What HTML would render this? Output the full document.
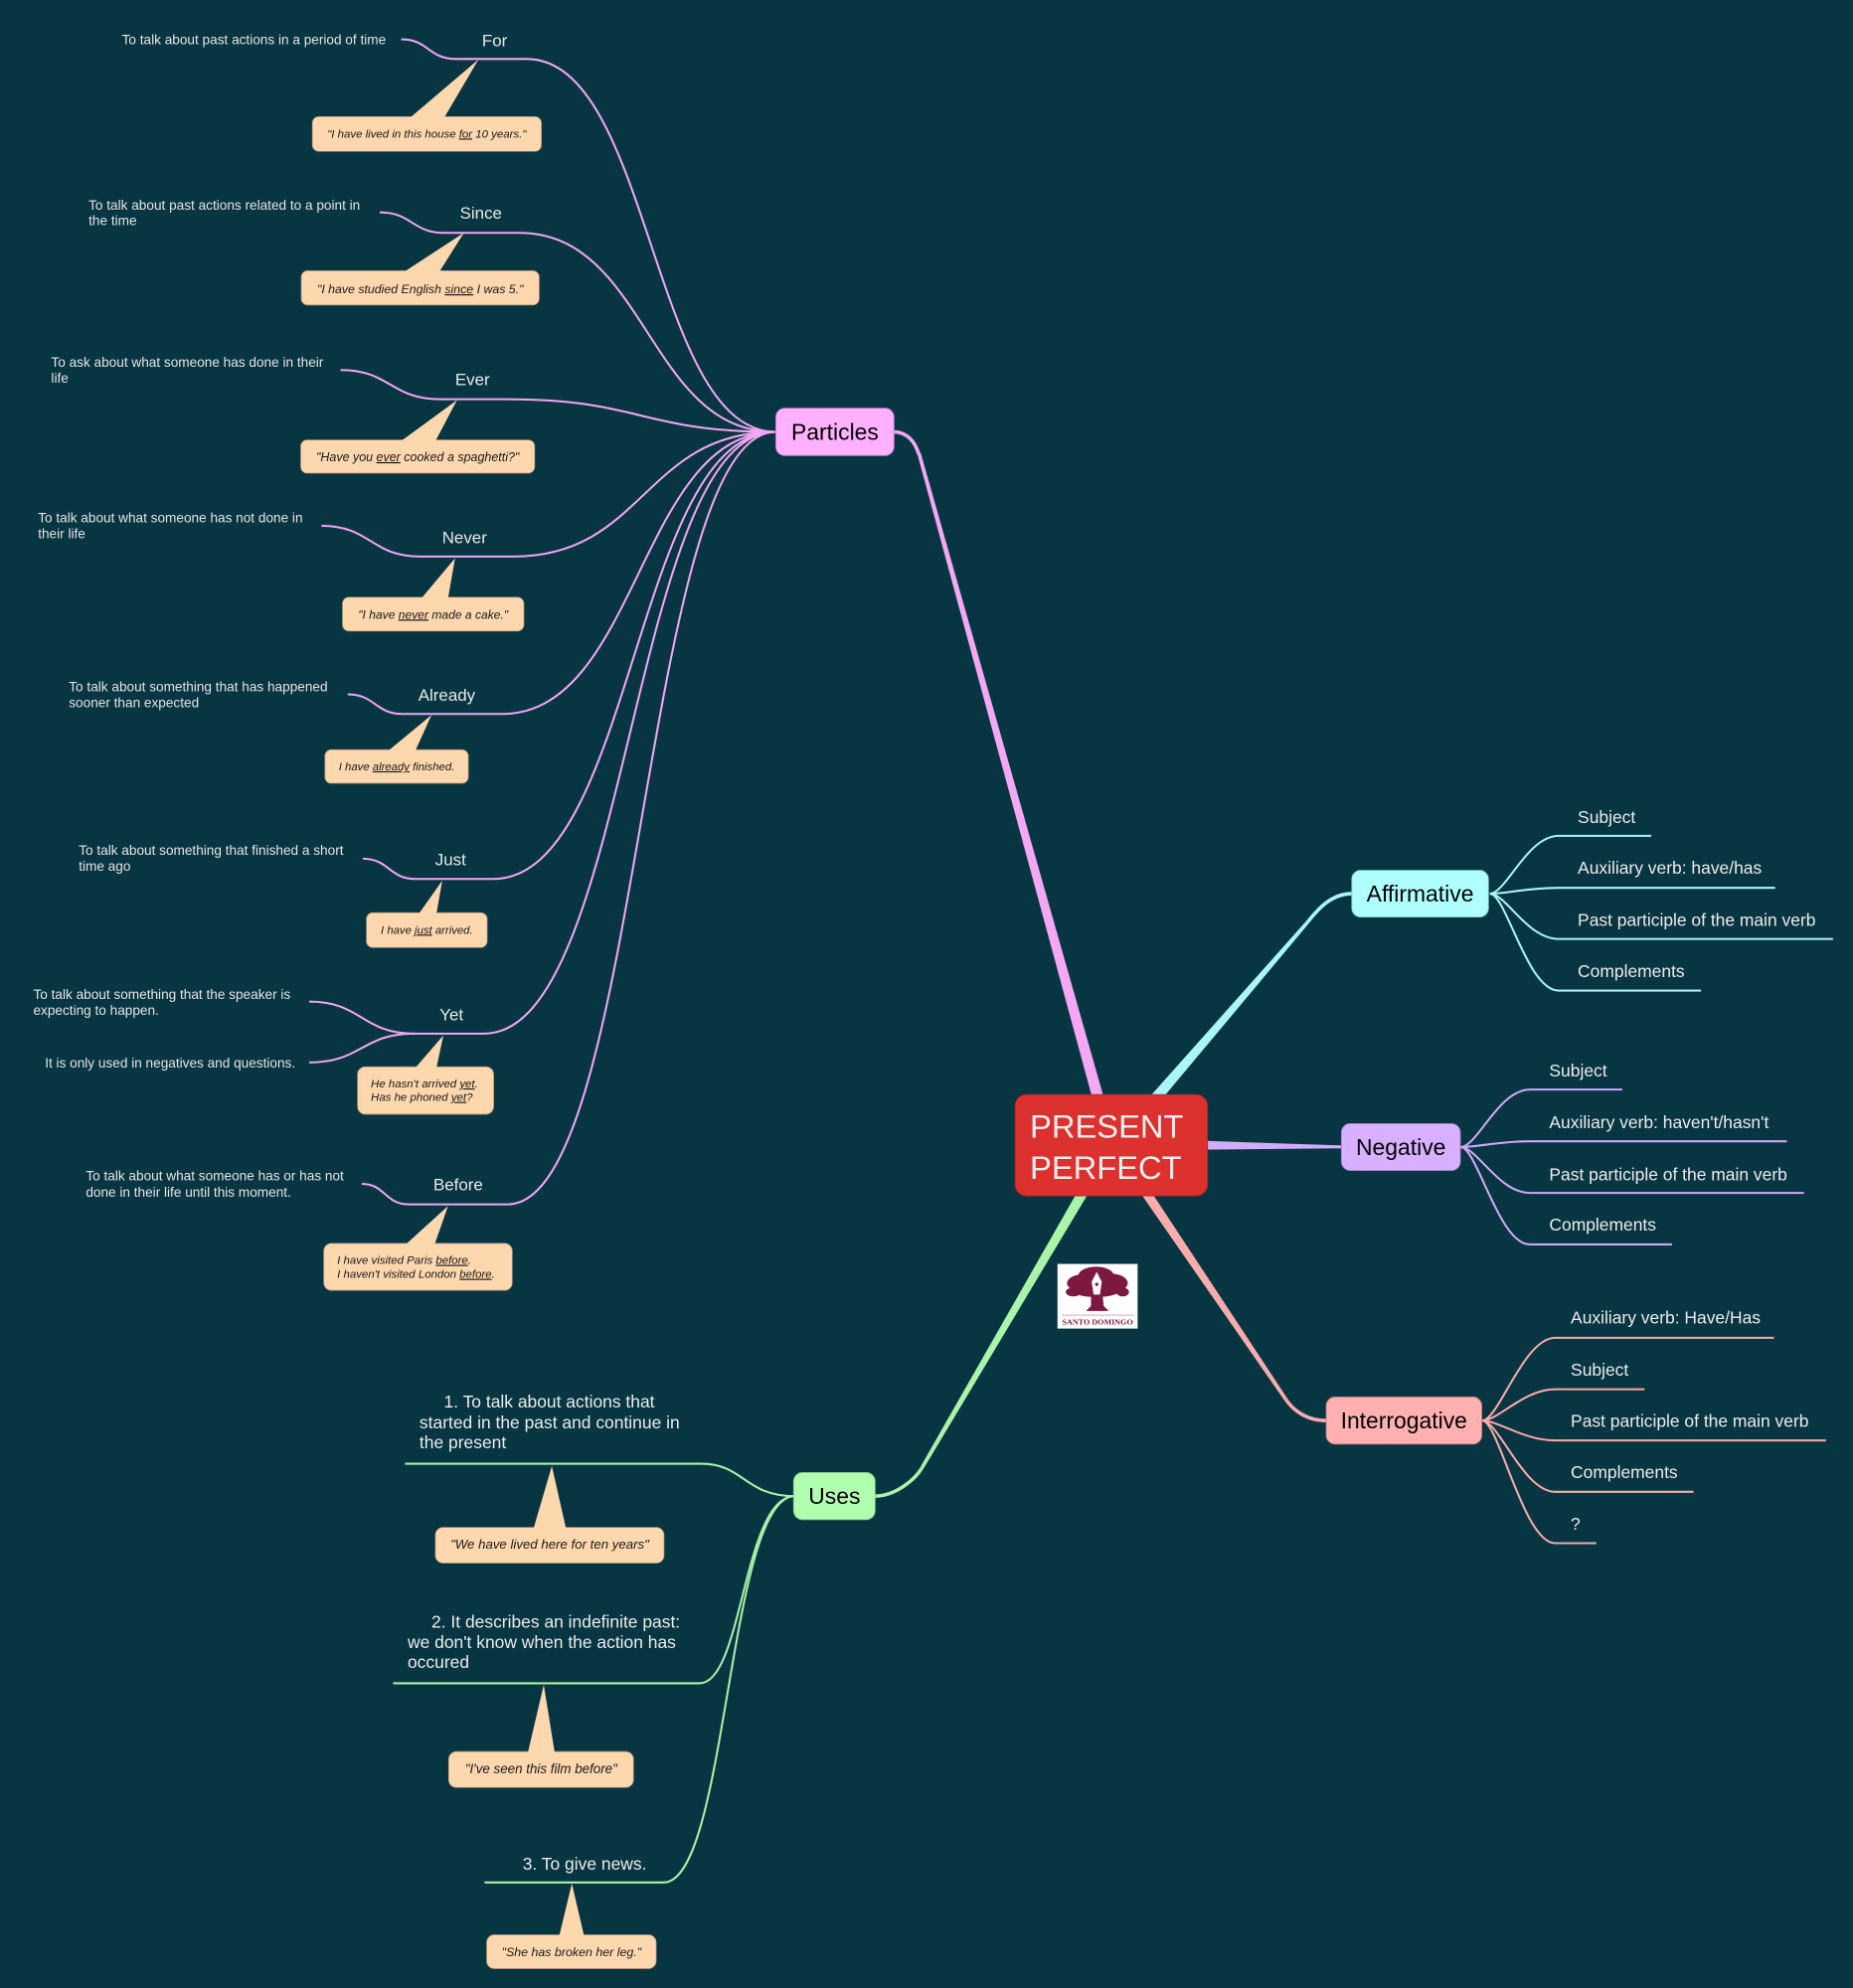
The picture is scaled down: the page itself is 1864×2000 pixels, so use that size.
<!DOCTYPE html>
<html>
<head>
<meta charset="utf-8">
<style>
html,body{margin:0;padding:0;background:#083542;}
svg{display:block;}
text{font-family:"Liberation Sans",Arial,Helvetica,sans-serif;}
.d{fill:#e4e4e4;font-size:10.7px;}
.l{fill:#e8e8e8;font-size:13.3px;}
.r{fill:#ececec;font-size:13.7px;}
.c{fill:#1a1a1a;font-style:italic;}
.n{fill:#000;font-size:18px;text-anchor:middle;}
.u{text-decoration:underline;}
.pk{stroke:#f2a6f2;stroke-width:1.6;fill:none;}
.cy{stroke:#a8f4f4;stroke-width:1.6;fill:none;}
.lv{stroke:#cfa8f6;stroke-width:1.6;fill:none;}
.sa{stroke:#f6aaaa;stroke-width:1.6;fill:none;}
.gr{stroke:#a8f2a8;stroke-width:1.6;fill:none;}
.bx{fill:#fdd7ae;stroke:#b9987a;stroke-width:0.6;}
.pt{fill:#fdd7ae;}
</style>
</head>
<body>
<svg width="1864" height="2000" viewBox="0 0 1464 1571" preserveAspectRatio="none" xmlns="http://www.w3.org/2000/svg">
<rect x="0" y="0" width="1464" height="1571" fill="#083542"/>

<!-- ===== thick main connectors ===== -->
<!-- Particles -->
<polygon points="875.34,878.8 727.35,357.63 724.65,358.37 866.66,881.2" fill="#f4a8f4"/>
<path d="M725.9,359 C722.9,348.4 716,341.3 706,341.3" stroke="#f4a8f4" stroke-width="2.8" fill="none"/>
<!-- Affirmative -->
<polygon points="905.91,882.94 1033.06,730.91 1030.94,729.09 899.09,877.06" fill="#aaf6f6"/>
<path d="M1032,730 C1039,721.5 1050,706.2 1068,706.2" stroke="#aaf6f6" stroke-width="2.8" fill="none"/>
<!-- Negative -->
<polygon points="950,901.5 1061,905.2 1061,907.4 950,908.5" fill="#d2acf8"/>
<!-- Interrogative -->
<polygon points="893.68,932.24 1014.84,1106.78 1017.16,1105.22 900.32,927.76" fill="#f8acac"/>
<path d="M1016,1106 C1021.6,1114.3 1032,1122.6 1048,1122.6" stroke="#f8acac" stroke-width="2.8" fill="none"/>
<!-- Uses -->
<polygon points="859.18,927.88 727.19,1159.29 729.61,1160.71 866.42,932.12" fill="#aaf4aa"/>
<path d="M728.4,1160 C723.35,1168.6 708,1182.3 691,1182.3" stroke="#aaf4aa" stroke-width="2.8" fill="none"/>

<!-- ===== Particles branches ===== -->
<path class="pk" d="M317,31 C338.5,31 338.5,46.6 360,46.6 L416,46.6 C514.5,46.6 514.5,341.3 613,341.3"/>
<path class="pk" d="M300,167.8 C325.5,167.8 325.5,184 351,184 L410,184 C511.5,184 511.5,341.3 613,341.3"/>
<path class="pk" d="M269,292.4 C308.5,292.4 308.5,315.5 348,315.5 L400,315.5 C506.5,315.5 506.5,341.3 613,341.3"/>
<path class="pk" d="M254,415.5 C293,415.5 293,439.8 332,439.8 L405.5,439.8 C509,439.8 509,341.3 613,341.3"/>
<path class="pk" d="M274.7,548.7 C296.4,548.7 296.4,564.2 318,564.2 L396.4,564.2 C504.7,564.2 504.7,341.3 613,341.3"/>
<path class="pk" d="M286.7,678.6 C307.4,678.6 307.4,694.6 328,694.6 L389.5,694.6 C501,694.6 501,341.3 613,341.3"/>
<path class="pk" d="M244.3,791.5 C285.8,791.5 285.8,816.8 327.3,816.8 L382.6,816.8 C497.8,816.8 497.8,341.3 613,341.3"/>
<path class="pk" d="M244.3,839.6 C285.8,839.6 285.8,816.8 327.3,816.8"/>
<path class="pk" d="M285.8,935.5 C304.2,935.5 304.2,951.7 322.6,951.7 L401,951.7 C507,951.7 507,341.3 613,341.3"/>

<!-- descriptions -->
<text class="d" x="96.3" y="34.8">To talk about past actions in a period of time</text>
<text class="d" x="70" y="165.7">To talk about past actions related to a point in</text>
<text class="d" x="70" y="178">the time</text>
<text class="d" x="40.4" y="289.8">To ask about what someone has done in their</text>
<text class="d" x="40.4" y="302.4">life</text>
<text class="d" x="30" y="412.9">To talk about what someone has not done in</text>
<text class="d" x="30" y="425.4">their life</text>
<text class="d" x="54.4" y="546.4">To talk about something that has happened</text>
<text class="d" x="54.4" y="559">sooner than expected</text>
<text class="d" x="62.2" y="675.5">To talk about something that finished a short</text>
<text class="d" x="62.2" y="688">time ago</text>
<text class="d" x="26.3" y="789.4">To talk about something that the speaker is</text>
<text class="d" x="26.3" y="802">expecting to happen.</text>
<text class="d" x="35.5" y="843.5">It is only used in negatives and questions.</text>
<text class="d" x="67.8" y="932.8">To talk about what someone has or has not</text>
<text class="d" x="67.8" y="945.9">done in their life until this moment.</text>

<!-- particle labels -->
<text class="l" x="390.8" y="36.7" text-anchor="middle">For</text>
<text class="l" x="380" y="172.8" text-anchor="middle">Since</text>
<text class="l" x="373.3" y="304.5" text-anchor="middle">Ever</text>
<text class="l" x="367" y="429.4" text-anchor="middle">Never</text>
<text class="l" x="353" y="553.7" text-anchor="middle">Already</text>
<text class="l" x="356" y="683.8" text-anchor="middle">Just</text>
<text class="l" x="356.7" y="806.4" text-anchor="middle">Yet</text>
<text class="l" x="362" y="940.7" text-anchor="middle">Before</text>

<!-- particle callouts -->
<rect class="bx" x="246.8" y="92.2" width="180.9" height="27.4" rx="5"/>
<polygon class="pt" points="378,47 324,93 351,93"/>
<text class="c" x="337.2" y="108.7" text-anchor="middle" font-size="9">"I have lived in this house <tspan class="u">for</tspan> 10 years."</text>

<rect class="bx" x="238" y="214" width="188" height="27" rx="5"/>
<polygon class="pt" points="366.5,184 319,215 347,215"/>
<text class="c" x="332" y="231.7" text-anchor="middle" font-size="9.7">"I have studied English <tspan class="u">since</tspan> I was 5."</text>

<rect class="bx" x="237.6" y="347.7" width="184.8" height="26.2" rx="5"/>
<polygon class="pt" points="361,316.3 316.7,348.7 344,348.7"/>
<text class="c" x="330" y="364.4" text-anchor="middle" font-size="9.8">"Have you <tspan class="u">ever</tspan> cooked a spaghetti?"</text>

<rect class="bx" x="270.6" y="472" width="143.3" height="26.7" rx="5"/>
<polygon class="pt" points="359.5,441.2 332.8,473 354,473"/>
<text class="c" x="342.2" y="488.8" text-anchor="middle" font-size="9.5">"I have <tspan class="u">never</tspan> made a cake."</text>

<rect class="bx" x="256.7" y="592.5" width="113.3" height="26.5" rx="5"/>
<polygon class="pt" points="341,565 306.5,593.5 328,593.5"/>
<text class="c" x="313.4" y="608.7" text-anchor="middle" font-size="8.9">I have <tspan class="u">already</tspan> finished.</text>

<rect class="bx" x="289.5" y="721.3" width="95.4" height="27.5" rx="5"/>
<polygon class="pt" points="349.4,695.9 330.8,722.3 344.8,722.3"/>
<text class="c" x="337.2" y="737.8" text-anchor="middle" font-size="8.9">I have <tspan class="u">just</tspan> arrived.</text>

<rect class="bx" x="282.5" y="843" width="107.5" height="37.5" rx="6"/>
<polygon class="pt" points="350.3,818.2 328,844 344.8,844"/>
<text class="c" x="293" y="859.3" font-size="9">He hasn't arrived <tspan class="u">yet</tspan>.</text>
<text class="c" x="293" y="870" font-size="9">Has he phoned <tspan class="u">yet</tspan>?</text>

<rect class="bx" x="255.8" y="982.6" width="148.9" height="37.1" rx="6"/>
<polygon class="pt" points="354,953 320.3,983.6 343.3,983.6"/>
<text class="c" x="266.4" y="998.8" font-size="9">I have visited Paris <tspan class="u">before</tspan>.</text>
<text class="c" x="266.4" y="1009.8" font-size="9">I haven't visited London <tspan class="u">before</tspan>.</text>

<!-- ===== Affirmative children ===== -->
<path class="cy" d="M1177,706.2 C1190,706.2 1206.5,660.5 1231.5,660.5 L1304.6,660.5"/>
<path class="cy" d="M1177,706.2 C1190,706.2 1206.5,701.6 1231.5,701.6 L1402.5,701.6"/>
<path class="cy" d="M1177,706.2 C1190,706.2 1206.5,742 1231.5,742 L1448.2,742"/>
<path class="cy" d="M1177,706.2 C1190,706.2 1206.5,782.8 1231.5,782.8 L1343.9,782.8"/>
<text class="r" x="1246.5" y="650.6">Subject</text>
<text class="r" x="1246.5" y="690.6">Auxiliary verb: have/has</text>
<text class="r" x="1246.5" y="731.8">Past participle of the main verb</text>
<text class="r" x="1246.5" y="772.3">Complements</text>

<!-- ===== Negative children ===== -->
<path class="lv" d="M1154,906.5 C1167,906.5 1184,861 1208.8,861 L1281.8,861"/>
<path class="lv" d="M1154,906.5 C1167,906.5 1184,901.9 1208.8,901.9 L1411.8,901.9"/>
<path class="lv" d="M1154,906.5 C1167,906.5 1184,942.7 1208.8,942.7 L1425.3,942.7"/>
<path class="lv" d="M1154,906.5 C1167,906.5 1184,983.4 1208.8,983.4 L1321,983.4"/>
<text class="r" x="1224" y="850.9">Subject</text>
<text class="r" x="1224" y="891.5">Auxiliary verb: haven't/hasn't</text>
<text class="r" x="1224" y="932.6">Past participle of the main verb</text>
<text class="r" x="1224" y="972.6">Complements</text>

<!-- ===== Interrogative children ===== -->
<path class="sa" d="M1171,1122.6 C1184,1122.6 1203.7,1057.2 1228.7,1057.2 L1401.6,1057.2"/>
<path class="sa" d="M1171,1122.6 C1184,1122.6 1203.7,1097.8 1228.7,1097.8 L1299.3,1097.8"/>
<path class="sa" d="M1171,1122.6 C1184,1122.6 1203.7,1138.3 1228.7,1138.3 L1442.6,1138.3"/>
<path class="sa" d="M1171,1122.6 C1184,1122.6 1203.7,1178.9 1228.7,1178.9 L1338,1178.9"/>
<path class="sa" d="M1171,1122.6 C1184,1122.6 1203.7,1219.5 1228.7,1219.5 L1261.2,1219.5"/>
<text class="r" x="1241" y="1045.9">Auxiliary verb: Have/Has</text>
<text class="r" x="1241" y="1087">Subject</text>
<text class="r" x="1241" y="1127.6">Past participle of the main verb</text>
<text class="r" x="1241" y="1168.2">Complements</text>
<text class="r" x="1241" y="1208.8">?</text>

<!-- ===== Uses children ===== -->
<path class="gr" d="M628,1182.3 C588,1182.3 588,1156.7 554,1156.7 L320,1156.7"/>
<path class="gr" d="M628,1182.3 C587,1182.3 587,1330.2 552.7,1330.2 L310.6,1330.2"/>
<path class="gr" d="M628,1182.3 C575,1182.3 575,1487.6 524.3,1487.6 L382.8,1487.6"/>

<text class="r" x="350.7" y="1112.2">1. To talk about actions that</text>
<text class="r" x="331.4" y="1128.9">started in the past and continue in</text>
<text class="r" x="331.4" y="1144.6">the present</text>
<text class="r" x="340.9" y="1286.2">2. It describes an indefinite past:</text>
<text class="r" x="322" y="1302.5">we don't know when the action has</text>
<text class="r" x="322" y="1318.2">occured</text>
<text class="r" x="412.9" y="1477.4">3. To give news.</text>

<rect class="bx" x="344" y="1207" width="180.6" height="28.2" rx="6"/>
<polygon class="pt" points="436,1158.5 421.5,1208 447.2,1208"/>
<text class="c" x="434.3" y="1224" text-anchor="middle" font-size="10.4">"We have lived here for ten years"</text>

<rect class="bx" x="354.5" y="1384.2" width="146" height="28.3" rx="6"/>
<polygon class="pt" points="429.6,1331.3 417,1385.2 438.3,1385.2"/>
<text class="c" x="427.5" y="1401.5" text-anchor="middle" font-size="10.5">"I've seen this film before"</text>

<rect class="bx" x="384.5" y="1529" width="133.9" height="26.7" rx="6"/>
<polygon class="pt" points="451.8,1488.4 441.8,1530 461.5,1530"/>
<text class="c" x="451.5" y="1546" text-anchor="middle" font-size="9.75">"She has broken her leg."</text>

<!-- ===== Nodes ===== -->
<rect x="613" y="322.6" width="93.3" height="37.4" rx="7" fill="#ffb0ff" stroke="#c77fc7" stroke-width="0.7"/>
<text class="n" x="659.7" y="347.6">Particles</text>

<rect x="1068" y="687.8" width="108" height="36.9" rx="7" fill="#b0ffff" stroke="#7fc7c7" stroke-width="0.7"/>
<text class="n" x="1122" y="712.5">Affirmative</text>

<rect x="1059.8" y="888" width="94" height="37" rx="7" fill="#d9b0ff" stroke="#a47fc7" stroke-width="0.7"/>
<text class="n" x="1106.8" y="912.8">Negative</text>

<rect x="1047.8" y="1104" width="122.9" height="37.2" rx="7" fill="#ffb0b0" stroke="#c78080" stroke-width="0.7"/>
<text class="n" x="1109.2" y="1128.9">Interrogative</text>

<rect x="627" y="1163.7" width="64.4" height="37.2" rx="7" fill="#b0ffb0" stroke="#80c780" stroke-width="0.7"/>
<text class="n" x="659.2" y="1188.6">Uses</text>

<!-- central -->
<rect x="802" y="865" width="152" height="80" rx="9" fill="#dc312e" stroke="#b32522" stroke-width="0.7"/>
<text x="813.7" y="899" font-size="25.7" fill="#efefef">PRESENT</text>
<text x="813.7" y="931.5" font-size="25.7" fill="#efefef">PERFECT</text>

<!-- logo -->
<rect x="835.5" y="998.8" width="63.3" height="51.1" fill="#ffffff"/>
<g fill="#7d1840">
  <ellipse cx="866" cy="1008" rx="14" ry="7"/>
  <ellipse cx="856" cy="1014" rx="13" ry="7"/>
  <ellipse cx="878" cy="1014" rx="13" ry="7.5"/>
  <ellipse cx="866" cy="1019" rx="20" ry="6"/>
  <ellipse cx="848" cy="1021" rx="6" ry="3.5"/>
  <ellipse cx="887" cy="1021" rx="5" ry="3.5"/>
  <path d="M862,1022 L871,1022 L872,1032 L876,1036 L858,1036 L862,1032 Z"/>
</g>
<path d="M866.5,1005 L870.5,1013 L869,1023 L864,1023 L862.5,1013 Z" fill="#ffffff"/>
<circle cx="866.5" cy="1015" r="1.3" fill="#7d1840"/>
<line x1="839" y1="1039.3" x2="896" y2="1039.3" stroke="#b57a90" stroke-width="0.5"/>
<text x="867.2" y="1046.6" text-anchor="middle" font-size="5.6" font-weight="bold" fill="#7d1840" style="font-family:'Liberation Serif',serif" textLength="56" lengthAdjust="spacingAndGlyphs">SANTO  DOMINGO</text>
</svg>
</body>
</html>
